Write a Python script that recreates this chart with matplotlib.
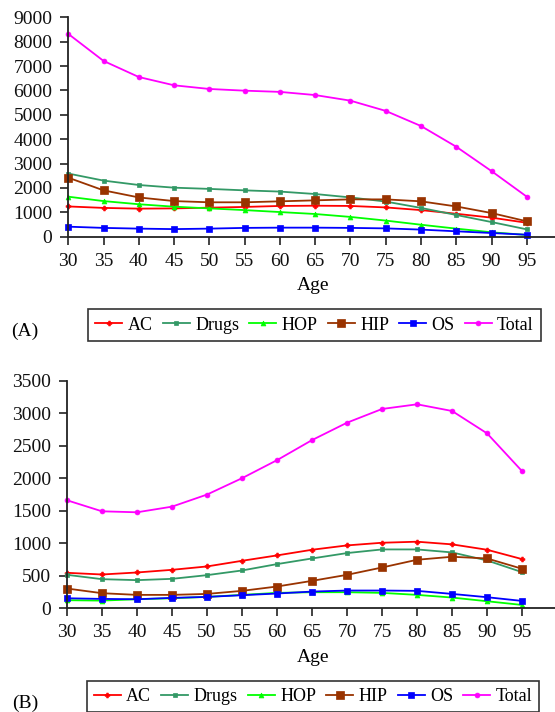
import matplotlib
matplotlib.use("Agg")
import matplotlib.pyplot as plt

plt.rcParams['font.family'] = ['Liberation Serif', 'DejaVu Serif']

ages = [30, 35, 40, 45, 50, 55, 60, 65, 70, 75, 80, 85, 90, 95]
series_names = ["AC", "Drugs", "HOP", "HIP", "OS", "Total"]

# Panel (A)
a_ac = [1240, 1180, 1150, 1160, 1190, 1220, 1260, 1270, 1260, 1200, 1090, 940, 780, 570]
a_drugs = [2590, 2300, 2120, 2010, 1960, 1900, 1850, 1750, 1610, 1440, 1180, 890, 600, 300]
a_hop = [1640, 1460, 1330, 1230, 1160, 1090, 1010, 930, 810, 660, 490, 330, 180, 70]
a_hip = [2420, 1900, 1610, 1460, 1410, 1410, 1450, 1490, 1530, 1530, 1450, 1240, 970, 630]
a_os = [410, 360, 330, 310, 330, 360, 370, 370, 360, 340, 290, 220, 150, 80]
a_total = [8320, 7210, 6550, 6210, 6060, 5990, 5940, 5810, 5580, 5160, 4540, 3690, 2690, 1640]

# Panel (B)
b_ac = [546, 520, 551, 592, 644, 731, 814, 901, 968, 1009, 1025, 984, 901, 757]
b_drugs = [515, 448, 433, 453, 510, 582, 680, 767, 850, 906, 906, 860, 736, 556]
b_hop = [124, 118, 139, 154, 175, 206, 237, 247, 247, 237, 206, 165, 108, 51]
b_hip = [304, 232, 206, 206, 221, 268, 335, 422, 515, 628, 747, 793, 767, 608]
b_os = [154, 144, 139, 160, 175, 201, 227, 257, 273, 273, 268, 221, 170, 113]
b_total = [1663, 1493, 1478, 1565, 1751, 2003, 2281, 2590, 2858, 3069, 3141, 3038, 2693, 2111]

colors = ['#ff0000', '#339966', '#00ff00', '#993300', '#0000ff', '#ff00ff']
markers = ['P', 's', '^', 's', 's', 'o']
msizes = [3.5, 3.5, 3.5, 6, 4, 3.5]

fig = plt.figure(figsize=(5.55, 7.12), dpi=100)

def style_axes(ax, ylim, yticks, xmax):
    ax.set_xlim(30, xmax)
    ax.set_ylim(*ylim)
    ax.set_xticks(ages)
    ax.set_yticks(yticks)
    for s in ['top', 'right']:
        ax.spines[s].set_visible(False)
    for s in ['left', 'bottom']:
        ax.spines[s].set_linewidth(1.3)
        ax.spines[s].set_color('#222222')
    ax.tick_params(direction='out', length=5.5, width=1.2, labelsize=14,
                   pad=6, colors='#222222', labelcolor='#111111')
    ax.patch.set_visible(False)

def draw(ax, data):
    handles = []
    for vals, name, c, m, ms in zip(data, series_names, colors, markers, msizes):
        h, = ax.plot(ages, vals, color=c, marker=m, markersize=ms, linewidth=1.3,
                     label=name, clip_on=False, markeredgewidth=0.5)
        handles.append(h)
    return handles

ax1 = fig.add_axes([0.123, 0.6676, 0.877, 0.3081])
h1 = draw(ax1, [a_ac, a_drugs, a_hop, a_hip, a_os, a_total])
style_axes(ax1, (0, 9000), list(range(0, 9001, 1000)), 99)

ax2 = fig.add_axes([0.1207, 0.1457, 0.8793, 0.3192])
h2 = draw(ax2, [b_ac, b_drugs, b_hop, b_hip, b_os, b_total])
style_axes(ax2, (0, 3500), list(range(0, 3501, 500)), 99.7)

fig.text(313 / 555, 1 - 285 / 712, "Age", ha='center', va='center', fontsize=14)
fig.text(313 / 555, 1 - 657 / 712, "Age", ha='center', va='center', fontsize=14)
fig.text(25 / 555, 1 - 331 / 712, "(A)", ha='center', va='center', fontsize=14)
fig.text(25 / 555, 1 - 703 / 712, "(B)", ha='center', va='center', fontsize=14)

leg_kw = dict(ncol=6, fontsize=13, frameon=True, fancybox=False,
              handlelength=1.5, handletextpad=0.3, columnspacing=0.55,
              borderpad=0.4, borderaxespad=0)
leg1 = fig.legend(h1, series_names, loc='center', bbox_to_anchor=(314.5 / 555, 1 - 325 / 712), **leg_kw)
leg2 = fig.legend(h2, series_names, loc='upper center', bbox_to_anchor=(313 / 555, 1 - 681 / 712), **leg_kw)
for leg in (leg1, leg2):
    fr = leg.get_frame()
    fr.set_edgecolor('black')
    fr.set_linewidth(1.2)

fig.savefig("out.png", dpi=100)
